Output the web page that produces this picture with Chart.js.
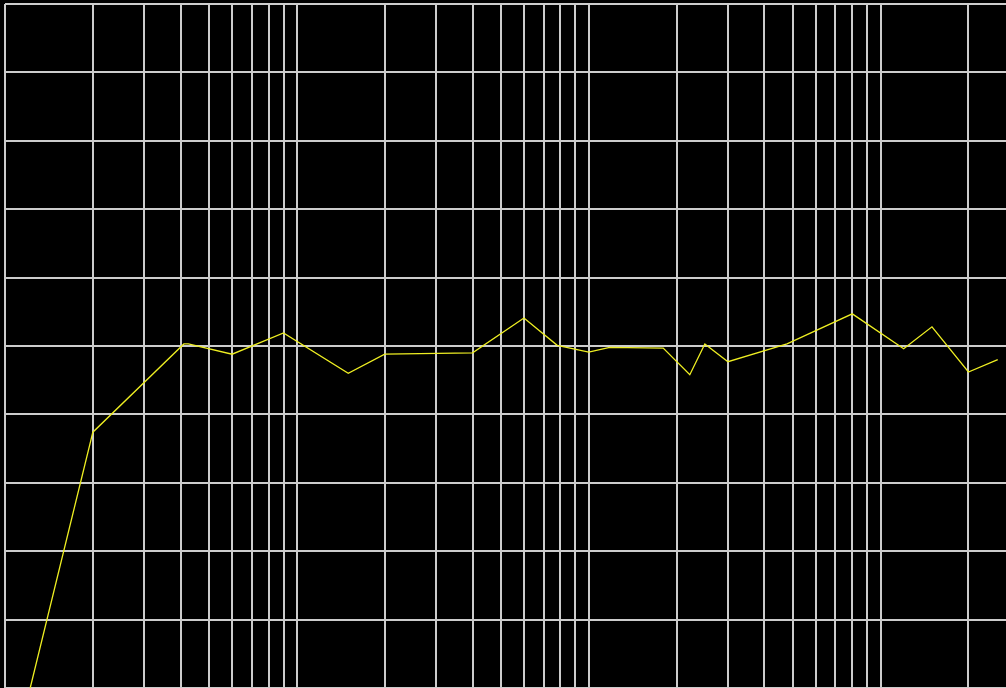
<!DOCTYPE html>
<html>
<head>
<meta charset="utf-8">
<script src="https://cdn.jsdelivr.net/npm/chart.js@4/dist/chart.umd.min.js"></script>
<style>
  html, body { margin: 0; padding: 0; background: #000; overflow: hidden; }
  #plot { display: block; background: #000; }
</style>
</head>
<body>
<canvas id="plot" width="1006" height="688"></canvas>
<script>
// curve (x on a log axis, y on a 0..100 grid)
const frequencies = [1.22, 2, 4.1, 4.25, 6, 9, 15, 20, 40, 60, 78, 100, 118, 180, 222, 250, 300, 478, 800, 1200, 1500, 2000, 2520];
const levels = [0, 37.4, 50.3, 50.3, 48.8, 51.9, 46.0, 48.8, 49.0, 54.1, 50.1, 49.1, 49.8, 49.7, 45.8, 50.3, 47.7, 50.3, 54.7, 49.6, 52.8, 46.2, 48.0];

// vertical grid: 1..9 per decade
const decades = [1, 10, 100, 1000];
const steps = [1, 2, 3, 4, 5, 6, 7, 8, 9];

const plot = document.getElementById("plot");

const dataset = [];
frequencies.forEach((f, i) => {
  dataset.push({ x: f, y: levels[i] });
});

const gridColor = "#cccccc";

new Chart(plot, {
  type: "line",
  data: {
    datasets: [
      {
        data: dataset,
        borderColor: "#eeee22",
        borderWidth: 1.3,
        pointRadius: 0,
        tension: 0,
        fill: false,
      },
    ],
  },
  options: {
    responsive: false,
    animation: false,
    events: [],
    layout: { padding: { left: 5, top: 4, right: 0, bottom: 0 } },
    scales: {
      x: {
        type: "logarithmic",
        min: 1,
        max: 2690,
        afterBuildTicks: (scale) => {
          const t = [];
          decades.forEach((d) => {
            steps.forEach((s) => {
              if (d * s <= 2000) t.push({ value: d * s });
            });
          });
          scale.ticks = t;
        },
        grid: { color: gridColor, lineWidth: 2, drawTicks: false },
        border: { display: false },
        ticks: { display: false },
      },
      y: {
        min: 0,
        max: 100,
        ticks: { display: false, stepSize: 10 },
        grid: { color: gridColor, lineWidth: 2, drawTicks: false },
        border: { display: false },
      },
    },
    plugins: {
      legend: { display: false },
      tooltip: { enabled: false },
    },
  },
});
</script>
</body>
</html>
